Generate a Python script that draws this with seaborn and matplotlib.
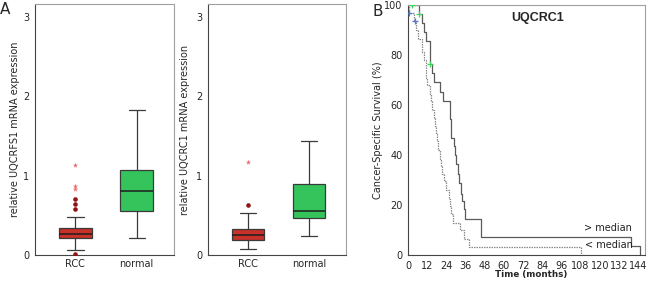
"""
    plot.py
    Boxplots of UQCRFS1 / UQCRC1 expression and Kaplan-Meier survival for UQCRC1.
"""
import pandas as pd
import seaborn as sns
import matplotlib
matplotlib.use('Agg')
import matplotlib.pyplot as plt
from matplotlib.ticker import MultipleLocator

#################################################################################
# Data
#################################################################################

GROUPS = ['RCC', 'normal']

# Five-number summaries (min, q1, median, q3, max) of each box.
uqcrfs1_rcc = [0.06, 0.22, 0.26, 0.345, 0.48]
uqcrfs1_normal = [0.22, 0.56, 0.81, 1.07, 1.82]
uqcrfs1_outliers = [0.01, 0.58, 0.64, 0.71]
uqcrfs1_extremes = [0.83, 0.87, 1.13]

uqcrc1_rcc = [0.07, 0.19, 0.25, 0.33, 0.53]
uqcrc1_normal = [0.24, 0.46, 0.55, 0.90, 1.43]
uqcrc1_outliers = [0.63]
uqcrc1_extremes = [1.17]

# Kaplan-Meier curves (months, survival %).
high_time = [0, 6.6, 8.7, 10.2, 11.5, 13.9, 15.2, 16.3, 19.8, 21.9, 26.0, 26.9,
             28.5, 29.4, 30.2, 31.0, 31.6, 33.1, 34.0, 34.8, 35.8, 45.6, 139.4, 145.0]
high_surv = [100, 96.4, 92.9, 89.3, 85.7, 76.4, 72.7, 69.1, 65.4, 61.7, 54.3, 47.0,
             43.6, 40.0, 36.3, 32.6, 28.7, 24.5, 21.5, 18.3, 14.6, 7.3, 3.7, 0]
low_time = [0, 0.5, 3.9, 5.2, 6.0, 8.7, 10.2, 11.0, 11.5, 12.0, 13.5, 14.3, 14.8,
            16.0, 17.0, 17.5, 17.9, 18.5, 19.8, 20.5, 21.2, 22.7, 23.9, 25.4, 26.3,
            26.8, 28.1, 32.3, 34.8, 37.9, 108.0]
low_surv = [100, 96.8, 93.5, 90.0, 86.5, 81.3, 78.0, 74.5, 71.0, 68.0, 64.5, 61.5,
            58.0, 54.7, 51.5, 48.5, 45.5, 42.0, 38.5, 35.5, 32.5, 29.5, 26.0, 22.5,
            19.5, 16.5, 13.0, 10.0, 6.5, 3.3, 0]
high_cens_time = [2.5, 6.6, 13.9]
high_cens_surv = [100, 96.4, 76.4]
low_cens_time = [0.6, 4.6]
low_cens_surv = [96.8, 93.5]

PALETTE = {'RCC': '#c8302a', 'normal': '#35c45c'}
TICK_SIZE = 7
LABEL_SIZE = 7

#################################################################################
# Plotting functions
#################################################################################

def style_frame(ax):
    for side in ['left', 'bottom']:
        ax.spines[side].set_color('#444444')
        ax.spines[side].set_linewidth(0.8)
    for side in ['top', 'right']:
        ax.spines[side].set_color('#a0a0a0')
        ax.spines[side].set_linewidth(0.8)
    ax.tick_params(axis='both', labelsize=TICK_SIZE, length=2.5, width=0.7,
                   color='#444444', pad=1.5)


def plot_box(ax, rcc, normal, outliers, extremes, ylabel, label_x):
    df = pd.DataFrame({'group': ['RCC'] * len(rcc) + ['normal'] * len(normal),
                       'value': rcc + normal})
    sns.boxplot(data=df, x='group', y='value', hue='group', order=GROUPS,
                hue_order=GROUPS, palette=PALETTE, saturation=1, whis=(0, 100),
                width=0.53, showfliers=False, linecolor='#3a3a3a', linewidth=0.9,
                medianprops=dict(color='#1e1e1e', linewidth=1.1),
                legend=False, ax=ax)
    # Outliers (circles) and extreme values (stars), drawn like SPSS does.
    sns.stripplot(x=['RCC'] * len(outliers), y=outliers, order=GROUPS,
                  jitter=False, color='#8e1512', size=3.3, ax=ax)
    sns.stripplot(x=['RCC'] * len(extremes), y=extremes, order=GROUPS,
                  jitter=False, color='#ec6c6c', marker='*', size=4, ax=ax)

    ax.set_xlim(-0.66, 1.61)
    ax.set_ylim(0, 3.16)
    ax.yaxis.set_major_locator(MultipleLocator(1))
    ax.set_xlabel('')
    ax.set_ylabel(ylabel, fontsize=LABEL_SIZE)
    ax.yaxis.set_label_coords(label_x, 0.5)
    style_frame(ax)
    ax.tick_params(axis='x', length=0, pad=3)


def plot_km(ax):
    sns.lineplot(x=high_time, y=high_surv, drawstyle='steps-post', estimator=None,
                 sort=False, color='#5a5a5a', linewidth=0.9, ax=ax)
    sns.lineplot(x=low_time, y=low_surv, drawstyle='steps-post', estimator=None,
                 sort=False, color='#8a8a8a', linewidth=0.9,
                 linestyle=(0, (1.2, 0.8)), ax=ax)
    sns.scatterplot(x=high_cens_time, y=high_cens_surv, marker='+', s=18,
                    color='#3fd45f', linewidth=0.9, ax=ax, zorder=3)
    sns.scatterplot(x=low_cens_time, y=low_cens_surv, marker='+', s=18,
                    color='#4f78d8', linewidth=0.9, ax=ax, zorder=3)

    ax.text(110, 10.8, '> median', fontsize=TICK_SIZE, va='center', color='#222222')
    ax.text(111, 4.2, '< median', fontsize=TICK_SIZE, va='center', color='#222222')
    ax.text(81, 95, 'UQCRC1', fontsize=9, fontweight='bold', ha='center',
            va='center', family='Liberation Sans')

    ax.set_xlim(0, 148.3)
    ax.set_ylim(0, 100)
    ax.xaxis.set_major_locator(MultipleLocator(12))
    ax.yaxis.set_major_locator(MultipleLocator(20))
    ax.yaxis.set_minor_locator(MultipleLocator(10))
    style_frame(ax)
    ax.tick_params(axis='y', which='minor', length=1.5, width=0.6, color='#444444')
    ax.set_xlabel('Time (months)', fontsize=6.3, fontweight='bold')
    ax.xaxis.set_label_coords(0.52, -0.06)
    ax.set_ylabel('Cancer-Specific Survival (%)', fontsize=LABEL_SIZE)
    ax.yaxis.set_label_coords(-0.104, 0.5)

#################################################################################
# Main
#################################################################################

def main():
    sns.set_style('white')
    plt.rcParams['font.family'] = ['DejaVu Sans']

    W, H = 650, 282
    fig = plt.figure(figsize=(W / 100, H / 100), dpi=100)
    # Axes boxes in pixel coordinates: left, right, top, bottom.
    boxes = [(35, 174, 4, 255), (208, 346, 4, 255), (408, 645, 5, 255)]
    axes = [fig.add_axes([l / W, 1 - b / H, (r - l) / W, (b - t) / H])
            for l, r, t, b in boxes]

    plot_box(axes[0], uqcrfs1_rcc, uqcrfs1_normal, uqcrfs1_outliers,
             uqcrfs1_extremes, 'relative UQCRFS1 mRNA expression', -0.108)
    plot_box(axes[1], uqcrc1_rcc, uqcrc1_normal, uqcrc1_outliers,
             uqcrc1_extremes, 'relative UQCRC1 mRNA expression', -0.13)
    plot_km(axes[2])

    fig.text(0.0, 1 - 9 / H, 'A', fontsize=11, va='center', ha='left')
    fig.text(372 / W, 1 - 11 / H, 'B', fontsize=11, va='center', ha='left')

    fig.savefig('out.png', dpi=100)


if __name__ == '__main__':
    main()
